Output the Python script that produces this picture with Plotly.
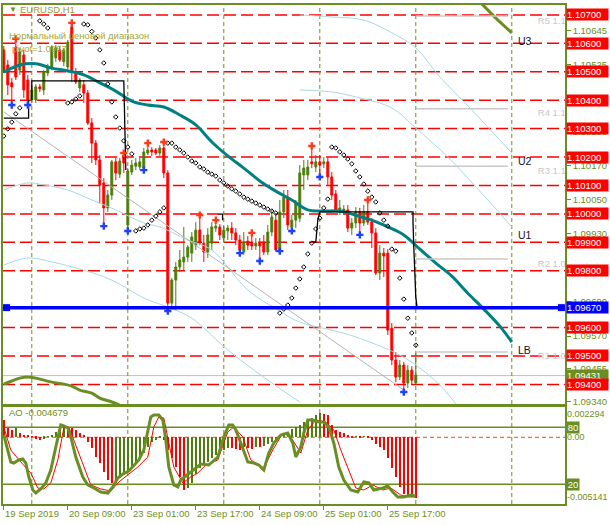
import plotly.graph_objects as go

# ---------------- DATA ----------------
bar_idx = list(range(104))
opens = [1.10577,1.10524,1.10461,1.10587,1.10506,1.10559,1.10471,1.10401,1.10401,1.10447,
         1.10436,1.10496,1.10517,1.10549,1.10577,1.10535,1.10517,1.10658,1.10499,1.10443,
         1.10454,1.10425,1.10320,1.10249,1.10190,1.10109,1.10021,1.10066,1.10183,1.10140,
         1.10207,1.09961,1.10147,1.10168,1.10165,1.10161,1.10214,1.10225,1.10225,1.10214,
         1.10232,1.10144,1.09686,1.09767,1.09813,1.09831,1.09848,1.09862,1.09890,1.09943,
         1.09897,1.09866,1.09897,1.09950,1.09954,1.09915,1.09940,1.09950,1.09933,1.09908,
         1.09866,1.09904,1.09897,1.09887,1.09897,1.09901,1.09866,1.09936,1.09978,1.09873,
         1.10007,1.10059,1.09954,1.09978,1.09985,1.10137,1.10137,1.10183,1.10165,1.10183,
         1.10176,1.10183,1.10130,1.10070,1.10007,1.10010,1.10014,1.09950,1.09968,1.10007,
         1.09968,1.10007,1.09971,1.09933,1.09792,1.09862,1.09862,1.09598,1.09486,1.09426,
         1.09468,1.09405,1.09450,1.09405]
highs = [1.10591,1.10542,1.10478,1.10616,1.10584,1.10577,1.10489,1.10450,1.10457,1.10457,
         1.10506,1.10528,1.10594,1.10594,1.10591,1.10584,1.10612,1.10672,1.10513,1.10478,
         1.10471,1.10436,1.10337,1.10260,1.10207,1.10126,1.10084,1.10190,1.10197,1.10197,
         1.10214,1.10161,1.10190,1.10197,1.10197,1.10232,1.10249,1.10235,1.10232,1.10242,
         1.10253,1.10154,1.09774,1.09831,1.09873,1.09954,1.09890,1.09936,1.09971,1.09996,
         1.09926,1.09950,1.09971,1.09978,1.09964,1.09957,1.09961,1.09971,1.09950,1.09926,
         1.09936,1.09922,1.09933,1.09915,1.09915,1.09926,1.09961,1.10014,1.09996,1.10049,
         1.10084,1.10084,1.09996,1.10049,1.10172,1.10190,1.10190,1.10239,1.10207,1.10207,
         1.10200,1.10197,1.10147,1.10084,1.10049,1.10031,1.10031,1.09985,1.10024,1.10021,
         1.10031,1.10049,1.09985,1.09950,1.09890,1.09880,1.09876,1.09616,1.09514,1.09486,
         1.09479,1.09468,1.09464,1.09510]
lows = [1.10496,1.10418,1.10383,1.10471,1.10489,1.10408,1.10383,1.10390,1.10390,1.10429,
        1.10418,1.10485,1.10506,1.10535,1.10535,1.10520,1.10506,1.10464,1.10457,1.10429,
        1.10390,1.10313,1.10179,1.10172,1.10038,1.09957,1.10007,1.10049,1.10119,1.10126,
        1.10144,1.09940,1.10137,1.10154,1.10154,1.10154,1.10207,1.10204,1.10207,1.10204,
        1.10126,1.09658,1.09676,1.09662,1.09795,1.09802,1.09831,1.09831,1.09873,1.09890,
        1.09831,1.09845,1.09873,1.09936,1.09908,1.09901,1.09908,1.09908,1.09890,1.09862,
        1.09855,1.09873,1.09873,1.09873,1.09834,1.09855,1.09855,1.09922,1.09866,1.09869,
        1.09985,1.09943,1.09940,1.09950,1.09971,1.10084,1.10119,1.10161,1.10147,1.10130,
        1.10161,1.10102,1.10049,1.10007,1.09996,1.09996,1.09936,1.09926,1.09950,1.09926,
        1.09957,1.09961,1.09880,1.09785,1.09767,1.09778,1.09574,1.09468,1.09408,1.09415,
        1.09373,1.09387,1.09401,1.09398]
closes = [1.10499,1.10454,1.10447,1.10482,1.10570,1.10436,1.10401,1.10436,1.10447,1.10440,
          1.10499,1.10517,1.10587,1.10584,1.10542,1.10577,1.10605,1.10499,1.10464,1.10471,
          1.10425,1.10320,1.10249,1.10190,1.10102,1.10021,1.10066,1.10183,1.10144,1.10186,
          1.10179,1.10151,1.10172,1.10179,1.10183,1.10218,1.10225,1.10218,1.10214,1.10232,
          1.10144,1.09686,1.09767,1.09813,1.09838,1.09848,1.09883,1.09919,1.09943,1.09897,
          1.09866,1.09926,1.09954,1.09957,1.09926,1.09943,1.09950,1.09933,1.09908,1.09873,
          1.09901,1.09890,1.09887,1.09897,1.09887,1.09866,1.09936,1.09989,1.09873,1.10007,
          1.10059,1.09961,1.09978,1.10038,1.10144,1.10161,1.10165,1.10176,1.10183,1.10172,
          1.10183,1.10130,1.10066,1.10014,1.10021,1.10017,1.09950,1.09968,1.10007,1.09968,
          1.10007,1.09971,1.09933,1.09792,1.09862,1.09852,1.09591,1.09486,1.09426,1.09468,
          1.09405,1.09450,1.09415,1.09433]

# Parabolic SAR dots (None = not visible)
sar = [1.10274,1.10299,1.10323,1.10352,1.10373,None,None,None,None,1.10679,
       1.10668,1.10654,None,None,None,None,1.10390,1.10394,1.10404,1.10415,
       1.10668,1.10665,1.10642,1.10619,1.10577,1.10531,1.10457,1.10394,1.10341,1.10302,
       1.10257,1.10235,1.10211,1.09940,1.09947,1.09950,1.09961,1.09978,1.09992,1.10007,
       1.10021,1.10249,1.10249,1.10235,1.10225,1.10214,1.10200,1.10186,1.10179,1.10165,
       1.10158,1.10147,1.10140,1.10133,1.10119,1.10109,1.10098,1.10088,1.10080,1.10070,
       1.10059,1.10052,1.10045,1.10038,1.10031,1.10024,1.10017,1.10010,1.10003,1.09651,
       1.09665,1.09679,1.09704,1.09739,1.09771,1.09813,1.09859,1.09897,1.09947,1.09985,
       1.10021,1.10052,1.10235,1.10232,1.10218,1.10207,1.10193,1.10176,1.10151,1.10130,
       1.10105,1.10080,1.10059,1.10042,1.10003,1.09978,1.09957,1.09876,1.09869,1.09774,
       1.09700,1.09633,1.09581,1.09538]

fractal_up_idx = [3, 17, 30, 36, 40, 49, 53, 62, 77, 91]
fractal_dn_idx = [2, 6, 25, 31, 35, 41, 59, 64, 69, 72, 79, 89, 100]

ma_idx = [0,4,8,12,16,20,24,28,32,36,40,44,48,52,56,60,64,68,72,76,80,84,88,92,96,100,104,108,112,116,120,124,127]
ma_val = [1.10499,1.10524,1.10528,1.10513,1.10503,1.10489,1.10461,1.10432,1.10397,1.10383,1.10376,
          1.10348,1.10313,1.10253,1.10204,1.10161,1.10116,1.10080,1.10049,1.10014,1.10010,1.10010,
          1.09995,1.09978,1.09954,1.09926,1.09876,1.09827,1.09781,1.09721,1.09665,1.09605,1.09549]

olive_low_idx = [0,2,4,6,8,10,12,15,17,19,22,24,27,29]
olive_low_val = [1.09401,1.09412,1.09422,1.09426,1.09422,1.09415,1.09408,1.09401,1.09394,
                 1.09380,1.09369,1.09352,1.09338,1.09327]
olive_top_idx = [119, 123, 127]
olive_top_val = [1.10746, 1.10689, 1.10637]

trend_idx = [0, 100]
trend_val = [1.10359, 1.09380]

reg_mid_idx = [0,6,10,16,22,28,35,39,46,52,61,69,74,82,88,98,103,109,113]
reg_mid_val = [1.10084,1.10109,1.10102,1.10084,1.10049,1.10014,1.09968,1.09954,1.09908,1.09873,
               1.09732,1.09658,1.09619,1.09591,1.09567,1.09510,1.09468,1.09398,1.09331]
reg_low_idx = [0,6,12,20,27,35,41,47,56,66,74]
reg_low_val = [1.09820,1.09845,1.09831,1.09802,1.09767,1.09704,1.09672,1.09633,1.09521,1.09415,1.09338]
proj_a_idx = [74,82,90,97,103,109,117,127]
proj_a_val = [1.10700,1.10693,1.10682,1.10637,1.10584,1.10482,1.10366,1.10214]
proj_b_idx = [74,82,89,97,103,111,121,127]
proj_b_val = [1.10436,1.10429,1.10408,1.10373,1.10302,1.10200,1.10049,1.09954]

range_idx = [0, 6.2, 6.2, None, 7, 7, 30, 30.5, None, 53.7, 54.7, 54.7, None,
             77.3, 78, 78.5, 79, 102.3, 102.3, 102.5, 103, 103.3]
range_val = [1.10337, 1.10337, 1.10401, None, 1.10401, 1.10468, 1.10468, 1.10154, None,
             1.09999, 1.09999, 1.09978, None,
             1.09901, 1.09901, 1.09978, 1.10007, 1.10007, 1.09968, 1.09883, 1.09707, 1.09672]

grid_levels = [1.10700,1.10600,1.10500,1.10400,1.10300,1.10200,1.10100,
               1.10000,1.09900,1.09800,1.09600,1.09500,1.09400]
pivot_level = 1.09670
bid_price = 1.09431
r_names = ["R5", "R4", "R3", "R2", "R1"]
r_levels = [1.10696, 1.10370, 1.10168, 1.09841, 1.09514]
r_span = [103, 126]
u_names = ["U3", "U2", "U1", "LB"]

day_sep_idx = [7, 31, 55, 79, 103, 127]
price_ticks = [1.10645,1.10525,1.10290,1.10170,1.10050,1.09930,
               1.09690,1.09570,1.09455,1.09340]
time_tick_idx = [0, 16, 32, 48, 64, 80, 96]
time_tick_text = ["19 Sep 2019", "20 Sep 09:00", "23 Sep 01:00", "23 Sep 17:00",
                  "24 Sep 09:00", "25 Sep 01:00", "25 Sep 17:00"]

ao_vals = [0.001324,0.000705,0.000550,0.000705,0.000318,0.000163,0.000085,0.000008,-0.000147,-0.000225,
           -0.000147,0.000008,0.000163,0.000395,0.000860,0.000937,0.000782,0.000705,0.000550,0.000318,
           0.000163,-0.000380,-0.000844,-0.001541,-0.002006,-0.002703,-0.003323,-0.003555,-0.003477,-0.003168,
           -0.002935,-0.002703,-0.002393,-0.002006,-0.001619,-0.001231,-0.000767,-0.000380,-0.000225,-0.000070,
           -0.000225,-0.000999,-0.001619,-0.002316,-0.003090,-0.004097,-0.003942,-0.003555,-0.002858,-0.002393,
           -0.002161,-0.001928,-0.001619,-0.001386,-0.001154,-0.000999,-0.000844,-0.000883,-0.000922,-0.000999,
           -0.000767,-0.000844,-0.000922,-0.000767,-0.000805,-0.000689,-0.000534,-0.000380,-0.000225,-0.000070,
           0.000240,0.000395,0.000627,0.000782,0.000937,0.001169,0.001324,0.001479,0.001712,0.001867,
           0.001789,0.001712,0.000937,0.000550,0.000395,0.000318,0.000085,-0.000031,0.000008,-0.000070,
           0.000008,-0.000070,-0.000225,-0.000534,-0.000767,-0.000999,-0.001619,-0.002393,-0.003090,-0.003865,
           -0.004407,-0.004562,-0.004639,-0.004679]
ao_max, ao_min = 0.002294, -0.005141

stoch_k_idx = [0,1,1.75,2.5,3.75,4.75,5.5,6.25,7.25,8,9.25,10.5,11.75,13,14.25,15,16,16.75,18,19.75,
               21,22.5,24.25,26,27.25,28.5,29.75,31.25,32.5,33.75,35,36,36.75,37.5,38.75,39.75,40.5,
               41.25,42.5,43.5,44.25,45.5,46.75,48,49.25,51.25,53.5,55,56.25,57.25,58,59.25,61,62.5,
               63.75,65,66.25,67.5,69.25,71,72.25,73,74.25,75,76,77.25,78.75,80,81.25,82.5,83.75,85,
               86.75,88.5,90,91.25,92.5,94.75,96,97.25,98.5,100,101.75,103]
stoch_k_val = [71.9,56.1,43.5,42.4,45.6,46.6,42.4,27.7,14.0,10.8,15.1,21.4,35.1,59.3,82.4,81.4,79.3,69.8,
               48.7,27.7,19.3,16.1,11.9,10.8,17.2,26.6,30.8,34.0,40.3,45.6,56.1,74.0,90.8,92.9,92.9,87.7,
               66.6,38.2,19.3,17.2,24.5,28.7,32.9,37.2,41.4,40.3,48.7,69.8,82.4,82.4,77.2,63.5,43.5,42.4,
               40.3,35.1,52.9,63.5,71.9,74.0,63.5,48.7,59.3,74.0,87.7,87.7,85.6,85.6,80.3,63.5,38.2,24.5,
               14.0,11.9,22.4,21.4,14.0,16.1,18.2,11.9,6.6,6.6,8.7,7.7]
stoch_d_idx = [0,1.75,4.25,6.75,8.5,10,11.75,13.5,15,16.25,17.5,19.75,21.75,24.25,26.75,28.75,31,33.5,
               36,37.5,38.75,40,41.25,42.5,44.75,46.75,48.5,50.5,53.5,56,57.5,59.75,61.75,65,67.25,69.75,
               71.75,74.25,76,78,80.5,82.5,84.25,86,88,90,92.25,94.75,96.75,99.25,101.25,103]
stoch_d_val = [80.3,56.1,43.5,31.9,16.1,15.1,21.4,45.6,79.3,80.3,66.6,42.4,19.3,15.1,12.9,22.4,29.8,38.2,
               48.7,80.3,90.8,89.8,63.5,38.2,21.4,27.7,31.9,40.3,45.6,75.1,80.3,69.8,45.6,37.2,56.1,74.0,
               69.8,52.9,77.2,87.7,85.6,77.2,56.1,37.2,16.1,14.0,19.3,14.0,16.1,8.7,6.6,6.6]
stoch_levels = [80, 20]

# ---------------- STYLE ----------------
OLIVE = "#6B8E23"
BULL = "#4E7D0E"
BEAR = "#FF0000"
FONT = "Liberation Sans, Arial, sans-serif"
XR = [-0.2, 140.3]

fig = go.Figure()

def line_tr(x, y, color, width, shape="linear", axis=("x", "y")):
    return go.Scatter(x=x, y=y, mode="lines", line=dict(color=color, width=width, shape=shape),
                      xaxis=axis[0], yaxis=axis[1], hoverinfo="skip", showlegend=False,
                      connectgaps=False)

# indicator lines on price chart
fig.add_trace(line_tr(reg_mid_idx, reg_mid_val, "#A8D8E2", 1, "spline"))
fig.add_trace(line_tr(reg_low_idx, reg_low_val, "#A8D8E2", 1, "spline"))
fig.add_trace(line_tr(proj_a_idx, proj_a_val, "#A8D8E2", 1, "spline"))
fig.add_trace(line_tr(proj_b_idx, proj_b_val, "#A8D8E2", 1, "spline"))
fig.add_trace(line_tr(trend_idx, trend_val, "#B4B4B4", 1))
fig.add_trace(line_tr(ma_idx, ma_val, "#008080", 3, "spline"))
fig.add_trace(line_tr(olive_low_idx, olive_low_val, OLIVE, 3, "spline"))
fig.add_trace(line_tr(olive_top_idx, olive_top_val, OLIVE, 3))
fig.add_trace(line_tr(range_idx, range_val, "#000000", 1.3))
for nm, lv in zip(r_names, r_levels):
    fig.add_trace(line_tr(r_span, [lv, lv], "#C8C8C8", 1.5))

# candles
fig.add_trace(go.Candlestick(
    x=bar_idx, open=opens, high=highs, low=lows, close=closes,
    increasing=dict(line=dict(color=BULL, width=1), fillcolor=BULL),
    decreasing=dict(line=dict(color=BEAR, width=1), fillcolor=BEAR),
    whiskerwidth=0, hoverinfo="skip", showlegend=False, xaxis="x", yaxis="y"))

# SAR dots
fig.add_trace(go.Scatter(x=bar_idx, y=sar, mode="markers",
                         marker=dict(symbol="diamond-open", size=3.5, color="black", line=dict(width=1)),
                         hoverinfo="skip", showlegend=False))
# fractals
fig.add_trace(go.Scatter(x=fractal_up_idx, y=[highs[i] for i in fractal_up_idx], mode="markers",
                         marker=dict(symbol="cross", size=6, color="#FF3A1A"),
                         hoverinfo="skip", showlegend=False))
fig.add_trace(go.Scatter(x=fractal_dn_idx, y=[lows[i] for i in fractal_dn_idx], mode="markers",
                         marker=dict(symbol="cross", size=6, color="#2040FF"),
                         hoverinfo="skip", showlegend=False))

# pivot line end squares
fig.add_trace(go.Scatter(x=[XR[0] + 0.9, XR[1] - 0.9], y=[pivot_level, pivot_level], mode="markers",
                         marker=dict(symbol="square-dot", size=8, color="#0000FF",
                                     line=dict(color="white", width=1)),
                         cliponaxis=False, hoverinfo="skip", showlegend=False))

# R labels (clipped at plot edge)
fig.add_trace(go.Scatter(x=[133.5] * len(r_levels), y=[v - 0.00018 for v in r_levels],
                         text=[f"{n} {v:.5f}" for n, v in zip(r_names, r_levels)],
                         mode="text", textposition="middle right", cliponaxis=True,
                         textfont=dict(color="#C8C8C8", size=9.5, family=FONT),
                         hoverinfo="skip", showlegend=False))

# ---------------- bottom panel ----------------
ao_colors = [BEAR] + [BULL if ao_vals[i] > ao_vals[i - 1] else BEAR for i in range(1, len(ao_vals))]
fig.add_trace(go.Bar(x=bar_idx, y=ao_vals, width=0.17, marker=dict(color=ao_colors, line=dict(width=0)),
                     xaxis="x2", yaxis="y2", hoverinfo="skip", showlegend=False))
fig.add_trace(go.Scatter(x=stoch_d_idx, y=stoch_d_val, mode="lines",
                         line=dict(color="#FF0000", width=1), xaxis="x2", yaxis="y3",
                         hoverinfo="skip", showlegend=False))
fig.add_trace(go.Scatter(x=stoch_k_idx, y=stoch_k_val, mode="lines",
                         line=dict(color=OLIVE, width=3), xaxis="x2", yaxis="y3",
                         hoverinfo="skip", showlegend=False))

# ---------------- shapes ----------------
shapes = []
for lv in grid_levels:
    shapes.append(dict(type="line", xref="x domain", x0=0, x1=1, yref="y", y0=lv, y1=lv,
                       line=dict(color="#FF0000", width=1.5, dash="12px,5px"), layer="below"))
shapes.append(dict(type="line", xref="x domain", x0=0, x1=1, yref="y", y0=bid_price, y1=bid_price,
                   line=dict(color="#C0C0C0", width=1), layer="below"))
shapes.append(dict(type="line", xref="x domain", x0=0, x1=1, yref="y", y0=pivot_level, y1=pivot_level,
                   line=dict(color="#0000FF", width=3.5), layer="above"))
for d in day_sep_idx:
    for xr, yr in (("x", "y domain"), ("x2", "y2 domain")):
        shapes.append(dict(type="line", xref=xr, x0=d, x1=d, yref=yr, y0=0, y1=1,
                           line=dict(color=OLIVE, width=1, dash="4px,3px"), layer="below"))
for lv in stoch_levels:
    shapes.append(dict(type="line", xref="x2 domain", x0=0, x1=1, yref="y3", y0=lv, y1=lv,
                       line=dict(color=OLIVE, width=1.5), layer="below"))
shapes.append(dict(type="line", xref="x2 domain", x0=0, x1=1, yref="y2", y0=0, y1=0,
                   line=dict(color="#FF4500", width=1, dash="4px,3px"), layer="below"))

# ---------------- annotations ----------------
ann = []
def box(y, text, bg, yref="y", w=41):
    return dict(xref="paper", x=1, xanchor="left", xshift=1, yref=yref, y=y, yanchor="middle",
                text=text, showarrow=False, bgcolor=bg, width=w, height=11, borderpad=0,
                font=dict(color="white", size=9.5, family=FONT), align="left")

ann.append(box(bid_price, f"{bid_price:.5f}", OLIVE))
for lv in grid_levels:
    ann.append(box(lv, f"{lv:.5f}", "#FF0000"))
ann.append(box(pivot_level, f"{pivot_level:.5f}", "#0000FF"))

u_points = [(olive_top_idx[-1], olive_top_val[-1]), (proj_a_idx[-1], proj_a_val[-1]),
            (proj_b_idx[-1], proj_b_val[-1]), (ma_idx[-1], ma_val[-1])]
for nm, (ux, uy) in zip(u_names, u_points):
    ann.append(dict(xref="x", x=ux + 1, xanchor="left", yref="y", y=uy, yanchor="top",
                    text=nm, showarrow=False, font=dict(color="#101030", size=10.5, family=FONT)))

ann.append(dict(xref="paper", x=0.0071, xanchor="left", yref="paper", y=0.9900, yanchor="middle",
                text="▼", showarrow=False, font=dict(color=OLIVE, size=8, family=FONT)))
ann.append(dict(xref="paper", x=0.0267, xanchor="left", yref="paper", y=0.9900, yanchor="middle",
                text="EURUSD,H1", showarrow=False, font=dict(color="#9A9A38", size=9.5, family=FONT)))
ann.append(dict(xref="paper", x=0.0071, xanchor="left", yref="paper", y=0.9379, yanchor="middle",
                text="Нормальный ценовой диапазон", showarrow=False,
                font=dict(color="#A6A63A", size=9.5, family=FONT)))
ann.append(dict(xref="paper", x=0.0125, xanchor="left", yref="paper", y=0.9138, yanchor="middle",
                text=f"pivot={pivot_level:.4f}", showarrow=False,
                font=dict(color="#A6A63A", size=9.5, family=FONT)))

# bottom panel labels
ann.append(dict(xref="paper", x=0.0071, xanchor="left", yref="y2 domain", y=0.943, yanchor="middle",
                text=f"AO {ao_vals[-1]:.6f}", showarrow=False,
                font=dict(color=OLIVE, size=9.5, family=FONT)))
for yv, anc, txt in ((ao_max, "top", f"{ao_max:.6f}"), (ao_min, "bottom", f"{ao_min:.6f}"),
                     (0, "middle", "0.00")):
    ann.append(dict(xref="paper", x=1, xanchor="left", xshift=0, yref="y2", y=yv, yanchor=anc,
                    text=txt, showarrow=False, font=dict(color=OLIVE, size=9, family=FONT)))
for lv in stoch_levels:
    ann.append(dict(xref="paper", x=1, xanchor="left", xshift=1, yref="y3", y=lv, yanchor="middle",
                    text=str(lv), showarrow=False, bgcolor=OLIVE, width=12, height=11, borderpad=0,
                    font=dict(color="white", size=9.5, family=FONT)))

axis_common = dict(showgrid=False, zeroline=False, showline=True, mirror=True,
                   linecolor=OLIVE, linewidth=1.5, automargin=False)

fig.update_layout(
    width=610, height=525,
    margin=dict(l=3, r=45, t=5, b=21, autoexpand=False),
    paper_bgcolor="white", plot_bgcolor="white",
    font=dict(family=FONT, size=9.5, color=OLIVE),
    showlegend=False, bargap=0,
    shapes=shapes, annotations=ann,
    xaxis=dict(domain=[0, 1], range=XR, anchor="y", showticklabels=False, ticks="",
               rangeslider=dict(visible=False), **axis_common),
    yaxis=dict(domain=[0.2004, 1], range=[1.09331, 1.10735], side="right", anchor="x",
               tickvals=price_ticks, ticktext=[f"{v:.5f}" for v in price_ticks],
               ticks="outside", ticklen=4, tickcolor=OLIVE,
               tickfont=dict(size=9.5, color=OLIVE, family=FONT), **axis_common),
    xaxis2=dict(domain=[0, 1], range=XR, anchor="y2", tickvals=time_tick_idx, ticktext=time_tick_text,
                ticks="outside", ticklen=4, tickcolor=OLIVE, ticklabelposition="outside right",
                tickangle=0, tickfont=dict(size=9.5, color=OLIVE, family=FONT), **axis_common),
    yaxis2=dict(domain=[0, 0.1934], range=[ao_min, ao_max], side="right", anchor="x2",
                showticklabels=False, ticks="", **axis_common),
    yaxis3=dict(overlaying="y2", range=[-0.74, 100.84], visible=False, anchor="x2"),
)

fig.write_html("out.html", config={"displayModeBar": False},
               post_script="document.body.style.margin='0';document.body.style.overflow='hidden';")
